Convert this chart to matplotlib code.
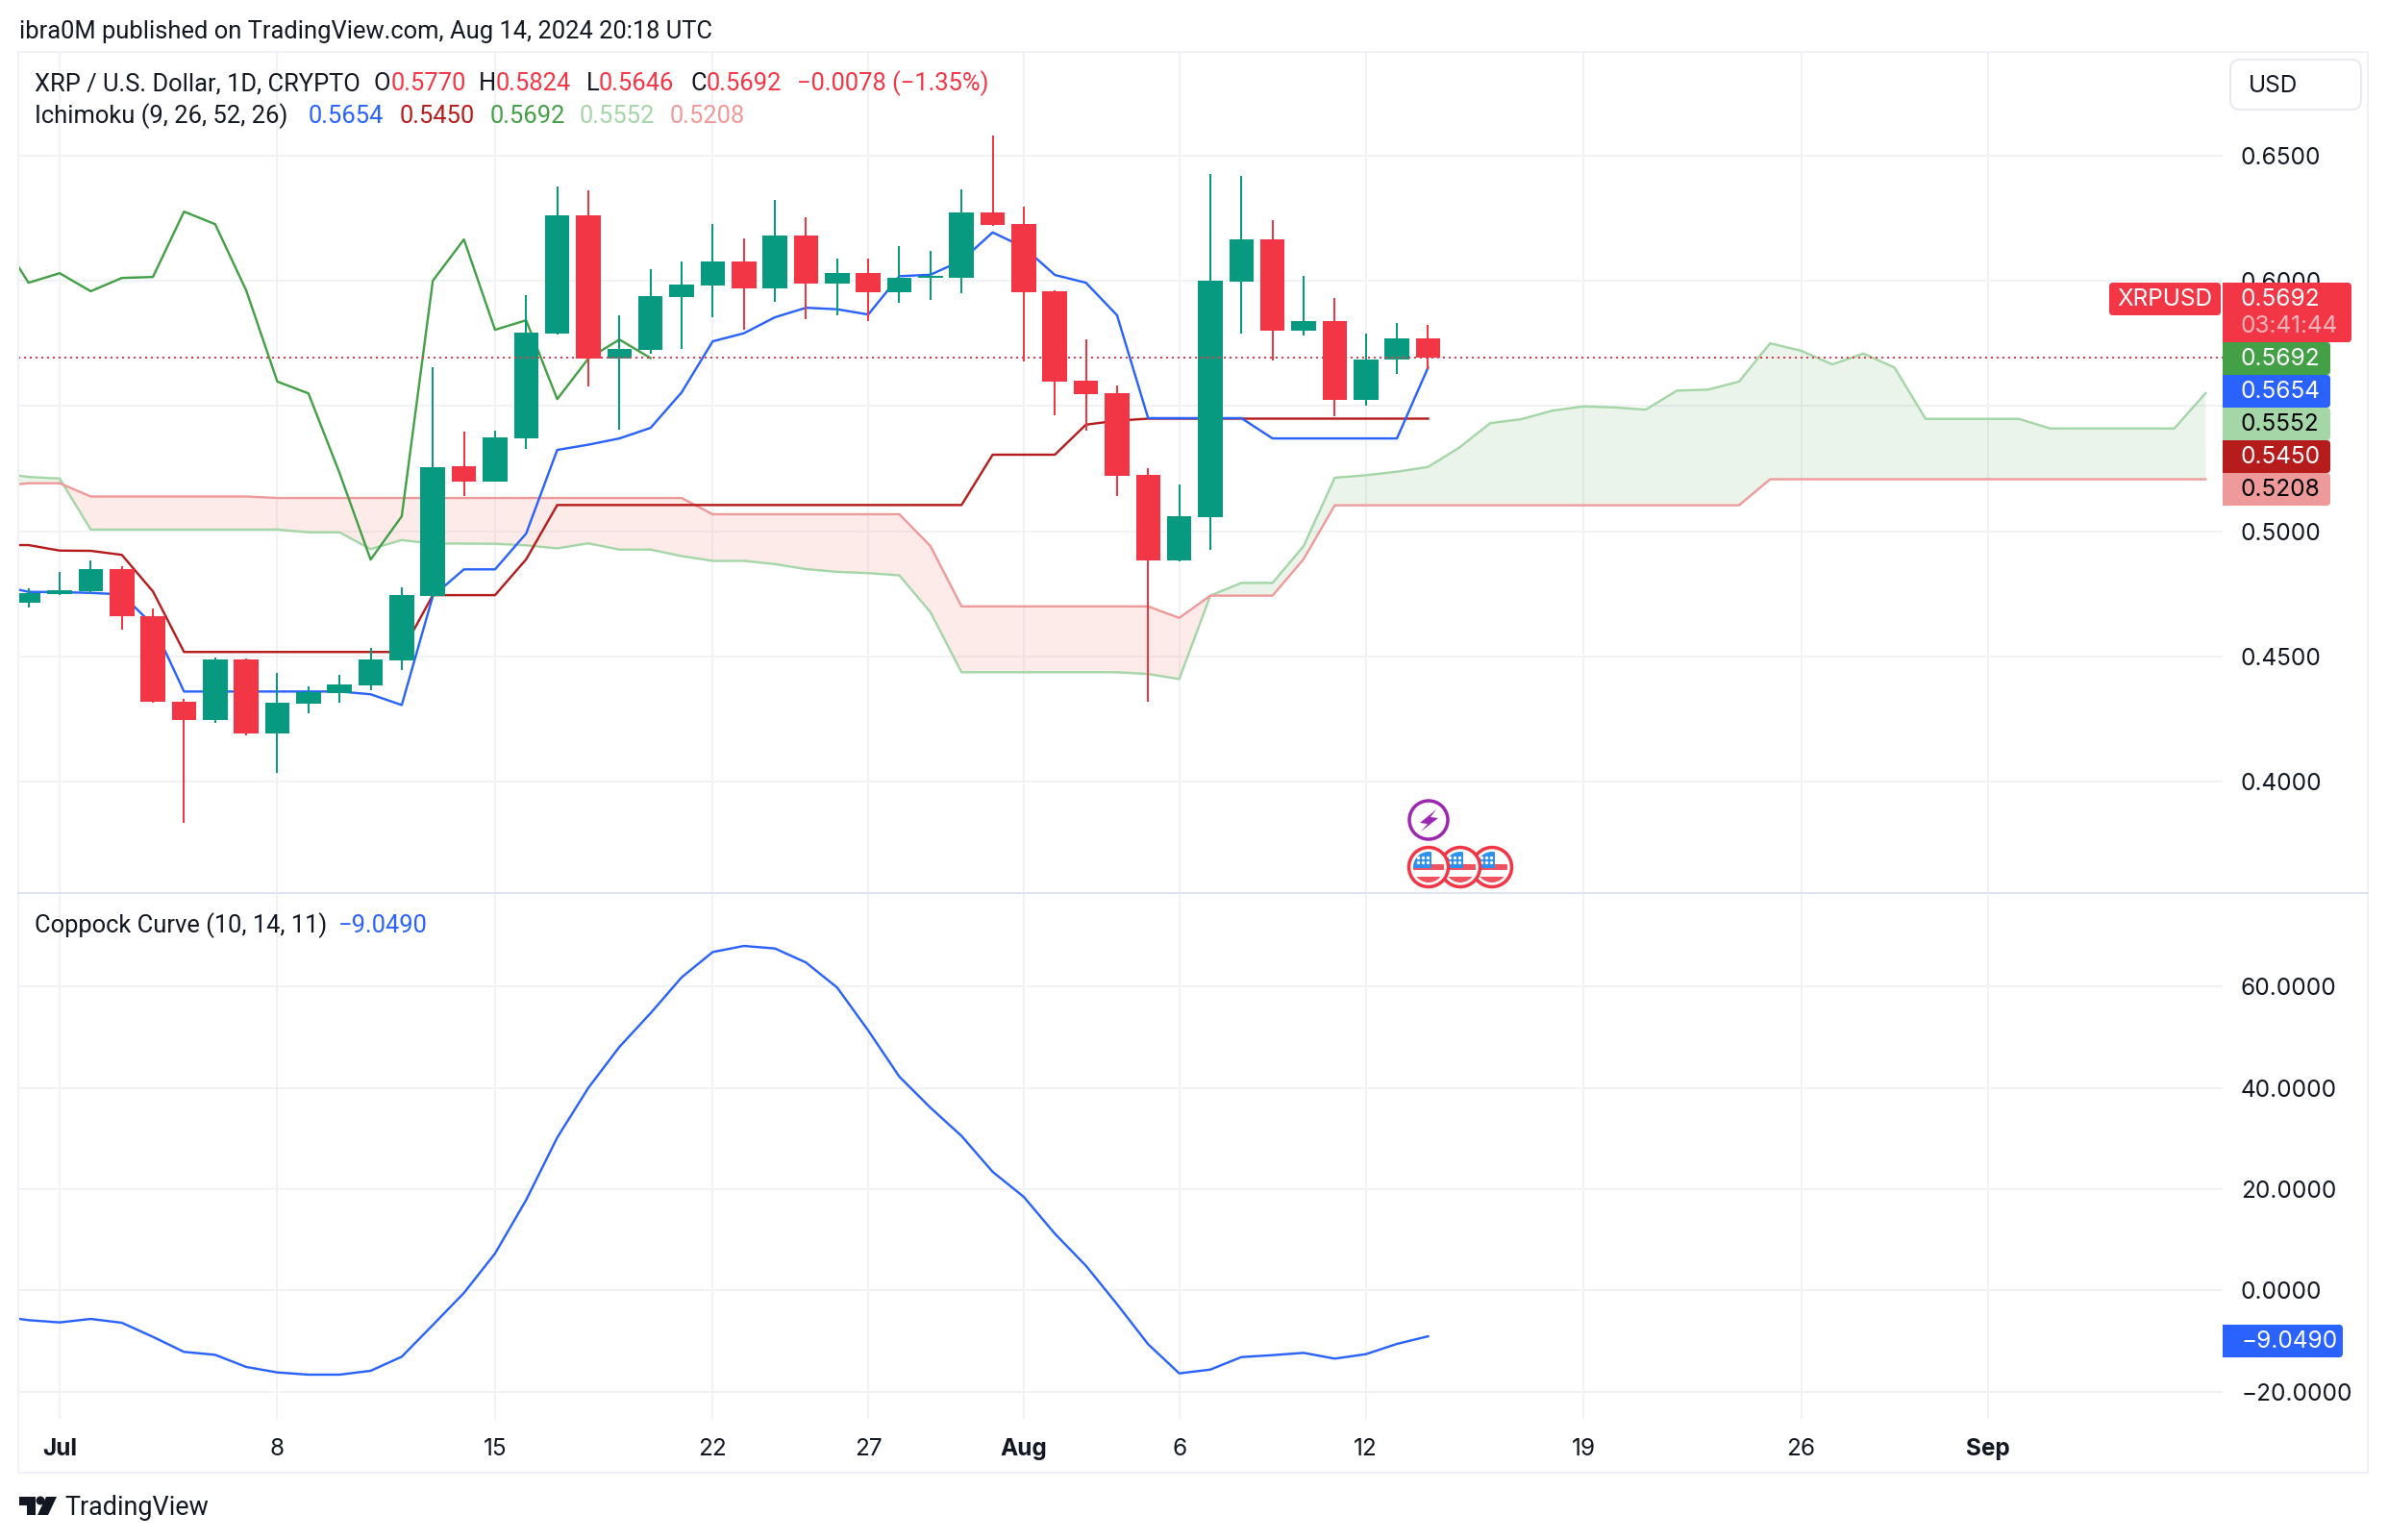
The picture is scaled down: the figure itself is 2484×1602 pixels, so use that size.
import numpy as np
import matplotlib
matplotlib.use("Agg")
import matplotlib.pyplot as plt
from matplotlib.patches import Rectangle, Circle, Polygon, FancyBboxPatch

W, H = 2484, 1602
DPI = 200
PX = 72 / DPI  # one image pixel in points

plt.rcParams['font.family'] = ['Inter', 'DejaVu Sans']

# candles, first one is Jun 30
opens = [0.4715, 0.4749, 0.4760, 0.4849, 0.4662, 0.4320, 0.4247, 0.4488, 0.4193, 0.4312, 0.4354, 0.4385,
         0.4485, 0.4741, 0.5259, 0.5199, 0.5371, 0.5789, 0.6262, 0.5690, 0.5724, 0.5935, 0.5982, 0.6078,
         0.5970, 0.6181, 0.5989, 0.6031, 0.5955, 0.6012, 0.6012, 0.6273, 0.6227, 0.5958, 0.5601, 0.5551,
         0.5225, 0.4883, 0.5056, 0.5997, 0.6166, 0.5801, 0.5839, 0.5525, 0.5686, 0.5770]
highs = [0.4771, 0.4837, 0.4882, 0.4859, 0.4690, 0.4329, 0.4494, 0.4492, 0.4434, 0.4380, 0.4426, 0.4534,
         0.4776, 0.5655, 0.5398, 0.5402, 0.5943, 0.6377, 0.6362, 0.5863, 0.6047, 0.6078, 0.6227, 0.6170,
         0.6323, 0.6254, 0.6089, 0.6089, 0.6139, 0.6120, 0.6366, 0.6581, 0.6296, 0.5962, 0.5767, 0.5582,
         0.5252, 0.5187, 0.6427, 0.6419, 0.6243, 0.6020, 0.5932, 0.5790, 0.5832, 0.5824]
lows = [0.4696, 0.4745, 0.4753, 0.4608, 0.4315, 0.3836, 0.4235, 0.4185, 0.4036, 0.4274, 0.4315, 0.4366,
        0.4445, 0.4735, 0.5141, 0.5198, 0.5329, 0.5786, 0.5578, 0.5406, 0.5709, 0.5728, 0.5855, 0.5805,
        0.5916, 0.5847, 0.5863, 0.5839, 0.5912, 0.5924, 0.5951, 0.6220, 0.5678, 0.5463, 0.5402, 0.5141,
        0.4319, 0.4879, 0.4925, 0.5790, 0.5682, 0.5782, 0.5459, 0.5502, 0.5628, 0.5646]
closes = [0.4754, 0.4764, 0.4849, 0.4662, 0.4320, 0.4247, 0.4488, 0.4193, 0.4315, 0.4357, 0.4388, 0.4488,
          0.4745, 0.5256, 0.5199, 0.5375, 0.5793, 0.6262, 0.5690, 0.5728, 0.5939, 0.5985, 0.6078, 0.5970,
          0.6181, 0.5989, 0.6031, 0.5955, 0.6012, 0.6020, 0.6273, 0.6224, 0.5955, 0.5598, 0.5548, 0.5221,
          0.4883, 0.5060, 0.6001, 0.6166, 0.5801, 0.5839, 0.5525, 0.5686, 0.5770, 0.5692]

# ichimoku, first value is Jun 29 (off the left edge)
tenkan = [0.4786, 0.4758, 0.4757, 0.4754, 0.4748, 0.4626, 0.4360, 0.4360, 0.4360, 0.4360, 0.4360, 0.4360,
          0.4349, 0.4306, 0.4741, 0.4848, 0.4848, 0.4991, 0.5325, 0.5346, 0.5371, 0.5413, 0.5555, 0.5759,
          0.5791, 0.5855, 0.5893, 0.5887, 0.5866, 0.6019, 0.6025, 0.6081, 0.6194, 0.6135, 0.6024, 0.5993,
          0.5863, 0.5452, 0.5452, 0.5452, 0.5452, 0.5371, 0.5371, 0.5371, 0.5371, 0.5371, 0.5654]
kijun = [0.4945, 0.4945, 0.4923, 0.4922, 0.4906, 0.4760, 0.4518, 0.4518, 0.4518, 0.4518, 0.4518, 0.4518,
         0.4518, 0.4518, 0.4745, 0.4745, 0.4745, 0.4888, 0.5105, 0.5105, 0.5105, 0.5105, 0.5105, 0.5105,
         0.5105, 0.5105, 0.5105, 0.5105, 0.5105, 0.5105, 0.5105, 0.5105, 0.5306, 0.5306, 0.5306, 0.5426,
         0.5442, 0.5450, 0.5450, 0.5450, 0.5450, 0.5450, 0.5450, 0.5450, 0.5450, 0.5450, 0.5450]
chikou = [0.6189, 0.5993, 0.6031, 0.5959, 0.6012, 0.6016, 0.6277, 0.6227, 0.5962, 0.5598, 0.5551, 0.5233,
          0.4887, 0.5060, 0.6001, 0.6166, 0.5805, 0.5843, 0.5528, 0.5690, 0.5766, 0.5692]
span_a = [0.5235, 0.5217, 0.5211, 0.5007, 0.5007, 0.5007, 0.5007, 0.5007, 0.5007, 0.5007, 0.4996, 0.4996,
          0.4929, 0.4965, 0.4951, 0.4951, 0.4950, 0.4944, 0.4932, 0.4952, 0.4927, 0.4927, 0.4901, 0.4882,
          0.4882, 0.4869, 0.4849, 0.4838, 0.4833, 0.4824, 0.4677, 0.4437, 0.4437, 0.4437, 0.4437, 0.4437,
          0.4437, 0.4430, 0.4410, 0.4743, 0.4794, 0.4794, 0.4941, 0.5214, 0.5224, 0.5238, 0.5257, 0.5334,
          0.5432, 0.5448, 0.5482, 0.5499, 0.5495, 0.5486, 0.5562, 0.5566, 0.5598, 0.5751, 0.5721, 0.5667,
          0.5710, 0.5654, 0.5449, 0.5449, 0.5449, 0.5449, 0.5411, 0.5411, 0.5411, 0.5411, 0.5411, 0.5552]
span_b = [0.5180, 0.5192, 0.5192, 0.5139, 0.5139, 0.5139, 0.5139, 0.5139, 0.5139, 0.5133, 0.5133, 0.5133,
          0.5133, 0.5133, 0.5133, 0.5133, 0.5133, 0.5133, 0.5133, 0.5133, 0.5133, 0.5133, 0.5133, 0.5068,
          0.5068, 0.5068, 0.5068, 0.5068, 0.5068, 0.5068, 0.4941, 0.4700, 0.4700, 0.4700, 0.4700, 0.4700,
          0.4700, 0.4700, 0.4654, 0.4743, 0.4743, 0.4743, 0.4889, 0.5104, 0.5104, 0.5104, 0.5104, 0.5104,
          0.5104, 0.5104, 0.5104, 0.5104, 0.5104, 0.5104, 0.5104, 0.5104, 0.5104, 0.5208, 0.5208, 0.5208,
          0.5208, 0.5208, 0.5208, 0.5208, 0.5208, 0.5208, 0.5208, 0.5208, 0.5208, 0.5208, 0.5208, 0.5208]

coppock = [-5.00, -5.87, -6.31, -5.62, -6.38, -9.16, -12.13, -12.70, -15.10, -16.18, -16.62, -16.62,
           -15.86, -13.08, -6.82, -0.49, 7.29, 17.85, 30.18, 39.98, 48.08, 54.72, 61.80, 66.80,
           68.00, 67.50, 64.72, 59.79, 51.31, 42.20, 36.07, 30.49, 23.42, 18.48, 11.21, 4.88,
           -2.71, -10.61, -16.37, -15.62, -13.15, -12.77, -12.32, -13.46, -12.58, -10.55, -9.05]

# axis labels, day numbers count from Jul 1
tick_days = [0, 7, 14, 21, 26, 31, 36, 42, 49, 56, 62]
tick_labels = ["Jul", "8", "15", "22", "27", "Aug", "6", "12", "19", "26", "Sep"]
price_ticks = [0.40, 0.45, 0.50, 0.55, 0.60, 0.65]
coppock_ticks = [-20, 0, 20, 40, 60]
last_close = 0.5692

INK = "#131722"
UP = "#089981"
DOWN = "#F23645"
GRID = "#F1F2F4"
C_TENKAN = "#2962FF"
C_KIJUN = "#B71C1C"
C_CHIKOU = "#43A047"
C_SPAN_A = "#A5D6A7"
C_SPAN_B = "#EF9A9A"
FS = 24.4 * PX   # scale labels and tags
FS_HEAD = 25.5 * PX  # header and legend lines
LW = 2.4 * PX


def pane(top, bottom):
    ax = fig.add_axes([19 / W, 1 - bottom / H, (2312 - 19) / W, (bottom - top) / H])
    for s in ax.spines.values():
        s.set_visible(False)
    ax.set_axisbelow(True)
    ax.grid(True, color=GRID, lw=2 * PX)
    ax.set_xlim(-1.33, 69.55)
    ax.set_xticks(tick_days)
    ax.yaxis.tick_right()
    ax.tick_params(length=0, labelsize=FS, labelcolor=INK)
    ax.tick_params(axis='y', pad=19 * PX)
    return ax


fig = plt.figure(figsize=(W / DPI, H / DPI), dpi=DPI, facecolor="white")

# price pane
ax = pane(54, 929)
ax.set_ylim(0.3555, 0.6915)
ax.set_yticks(price_ticks, [f"{p:.4f}" for p in price_ticks])
ax.tick_params(axis='x', labelbottom=False)

xa = np.arange(len(span_a)) - 2
a = np.array(span_a)
b = np.array(span_b)
ax.fill_between(xa, a, b, where=a >= b, interpolate=True, color=C_CHIKOU, alpha=0.11, lw=0)
ax.fill_between(xa, a, b, where=a <= b, interpolate=True, color="#F44336", alpha=0.10, lw=0)
ax.plot(xa, a, color=C_SPAN_A, lw=LW)
ax.plot(xa, b, color=C_SPAN_B, lw=LW)
ax.plot(np.arange(len(chikou)) - 2, chikou, color=C_CHIKOU, lw=LW)
ax.plot(np.arange(len(kijun)) - 2, kijun, color=C_KIJUN, lw=LW)
ax.plot(np.arange(len(tenkan)) - 2, tenkan, color=C_TENKAN, lw=LW)

xc = np.arange(len(closes)) - 1
colors = [UP if c >= o else DOWN for o, c in zip(opens, closes)]
ax.vlines(xc, lows, highs, colors=colors, lw=2 * PX, zorder=3)
ax.bar(xc, np.array(closes) - np.array(opens), bottom=opens, width=0.79, color=colors, lw=0, zorder=3)
ax.axhline(last_close, color=DOWN, lw=2 * PX, ls=(0, (1, 2)), zorder=4)

# coppock pane
ax2 = pane(929, 1476)
ax2.set_ylim(-25.35, 78.44)
ax2.set_yticks(coppock_ticks, [f"{v:.4f}".replace("-", "\u2212") for v in coppock_ticks])
ax2.set_xticklabels(tick_labels)
ax2.tick_params(axis='x', pad=20 * PX)
for lab in ax2.get_xticklabels():
    if lab.get_text() in ("Jul", "Aug", "Sep"):
        lab.set_fontweight("bold")
ax2.plot(np.arange(len(coppock)) - 2, coppock, color=C_TENKAN, lw=LW)

# everything around the chart, in image pixels
ov = fig.add_axes([0, 0, 1, 1], zorder=10)
ov.set_xlim(0, W)
ov.set_ylim(H, 0)
ov.axis("off")
ov.patch.set_alpha(0)


def text(x, y, s, color=INK, size=FS, **kw):
    kw.setdefault("va", "center")
    ov.text(x, y, s, color=color, fontsize=size, **kw)


def head(x, y, s, color=INK, size=FS_HEAD):
    ov.text(x, y, s, color=color, fontsize=size, va="center", family=["Roboto", "DejaVu Sans"])


def tag(x0, x1, y0, y1, color, round_left=False):
    ov.add_patch(FancyBboxPatch((x0 + 4, y0 + 4), x1 - x0 - 8, y1 - y0 - 8, boxstyle="round,pad=4,rounding_size=4",
                                fc=color, ec="none"))
    if not round_left:
        ov.add_patch(Rectangle((x0, y0), 12, y1 - y0, fc=color, ec="none"))


ov.add_patch(Rectangle((19, 54), 2463 - 19, 1532 - 54, fc="none", ec="#F0F1F6", lw=2 * PX))
ov.plot([19, 2463], [929, 929], color="#E0E3EB", lw=2 * PX)

head(20, 33, "ibra0M published on TradingView.com, Aug 14, 2024 20:18 UTC")

head(36, 87, "XRP / U.S. Dollar, 1D, CRYPTO")
for x, s, c in [(388, "O", INK), (407, "0.5770", DOWN), (498, "H", INK), (516, "0.5824", DOWN),
                (610, "L", INK), (623, "0.5646", DOWN), (718, "C", INK), (735, "0.5692", DOWN),
                (829, "\u22120.0078 (\u22121.35%)", DOWN)]:
    head(x, 87, s, color=c)
head(36, 121, "Ichimoku (9, 26, 52, 26)")
for x, s, c in [(321, "0.5654", C_TENKAN), (416, "0.5450", C_KIJUN), (510, "0.5692", C_CHIKOU),
                (603, "0.5552", C_SPAN_A), (697, "0.5208", C_SPAN_B)]:
    head(x, 121, s, color=c)
head(36, 963, "Coppock Curve (10, 14, 11)")
head(352, 963, "\u22129.0490", color=C_TENKAN)

# USD button
ov.add_patch(FancyBboxPatch((2328, 70), 120, 36, boxstyle="round,pad=8,rounding_size=10", fc="white",
                            ec="#E8EAF0", lw=2 * PX))
text(2339, 89, "USD")

# price tags on the scale
tag(2194, 2310, 294, 328, DOWN, round_left=True)
text(2252, 312, "XRPUSD", color="white", ha="center")
tag(2312, 2446, 294, 356, DOWN)
text(2331, 311, "0.5692", color="white")
text(2331, 339, "03:41:44", color="#FAB4BB")
for y0, s, fc, tc in [(356, "0.5692", C_CHIKOU, "white"), (390, "0.5654", C_TENKAN, "white"),
                      (424, "0.5552", C_SPAN_A, "black"), (458, "0.5450", C_KIJUN, "white"),
                      (492, "0.5208", C_SPAN_B, "black")]:
    tag(2312, 2424, y0, y0 + 34, fc)
    text(2331, y0 + 18, s, color=tc)
tag(2312, 2437, 1378, 1412, C_TENKAN)
text(2331, 1395, "\u22129.0490", color="white")

# event icons
ov.add_patch(Circle((1486, 853), 20, fc="white", ec="#9C27B0", lw=3.5 * PX))
ov.add_patch(Polygon([(1494, 842), (1477, 856), (1485, 857), (1478, 865), (1496, 851), (1488, 850)], fc="#9C27B0", ec="none"))
for cx in (1552, 1519, 1486):
    ov.add_patch(Circle((cx, 902), 20.5, fc="white", ec="#F23645", lw=3.5 * PX))
    clip = Circle((cx, 902), 16, transform=ov.transData)
    for r, fc in [((cx - 17, 899), (34, 6, "#F0525F")), ((cx - 17, 912), (34, 6, "#F0525F")),
                  ((cx - 17, 886), (20, 17, "#2F8FEF"))]:
        p = ov.add_patch(Rectangle(r, fc[0], fc[1], fc=fc[2], ec="none"))
        p.set_clip_path(clip)
    ov.scatter([cx + dx for dx in (-11, -6, -1)] * 2, [892] * 3 + [897] * 3, s=1.5, c="white", lw=0)

# TradingView logo
ov.add_patch(Polygon([(20, 1557), (37, 1557), (37, 1576), (28, 1576), (28, 1566), (20, 1566)], fc=INK, ec="none"))
ov.add_patch(Circle((42, 1561), 4.5, fc=INK, ec="none"))
ov.add_patch(Polygon([(48, 1557), (59, 1557), (50, 1576), (39, 1576)], fc=INK, ec="none"))
head(67, 1569, "TradingView", size=27 * PX)

fig.savefig("out.png", dpi=DPI)
